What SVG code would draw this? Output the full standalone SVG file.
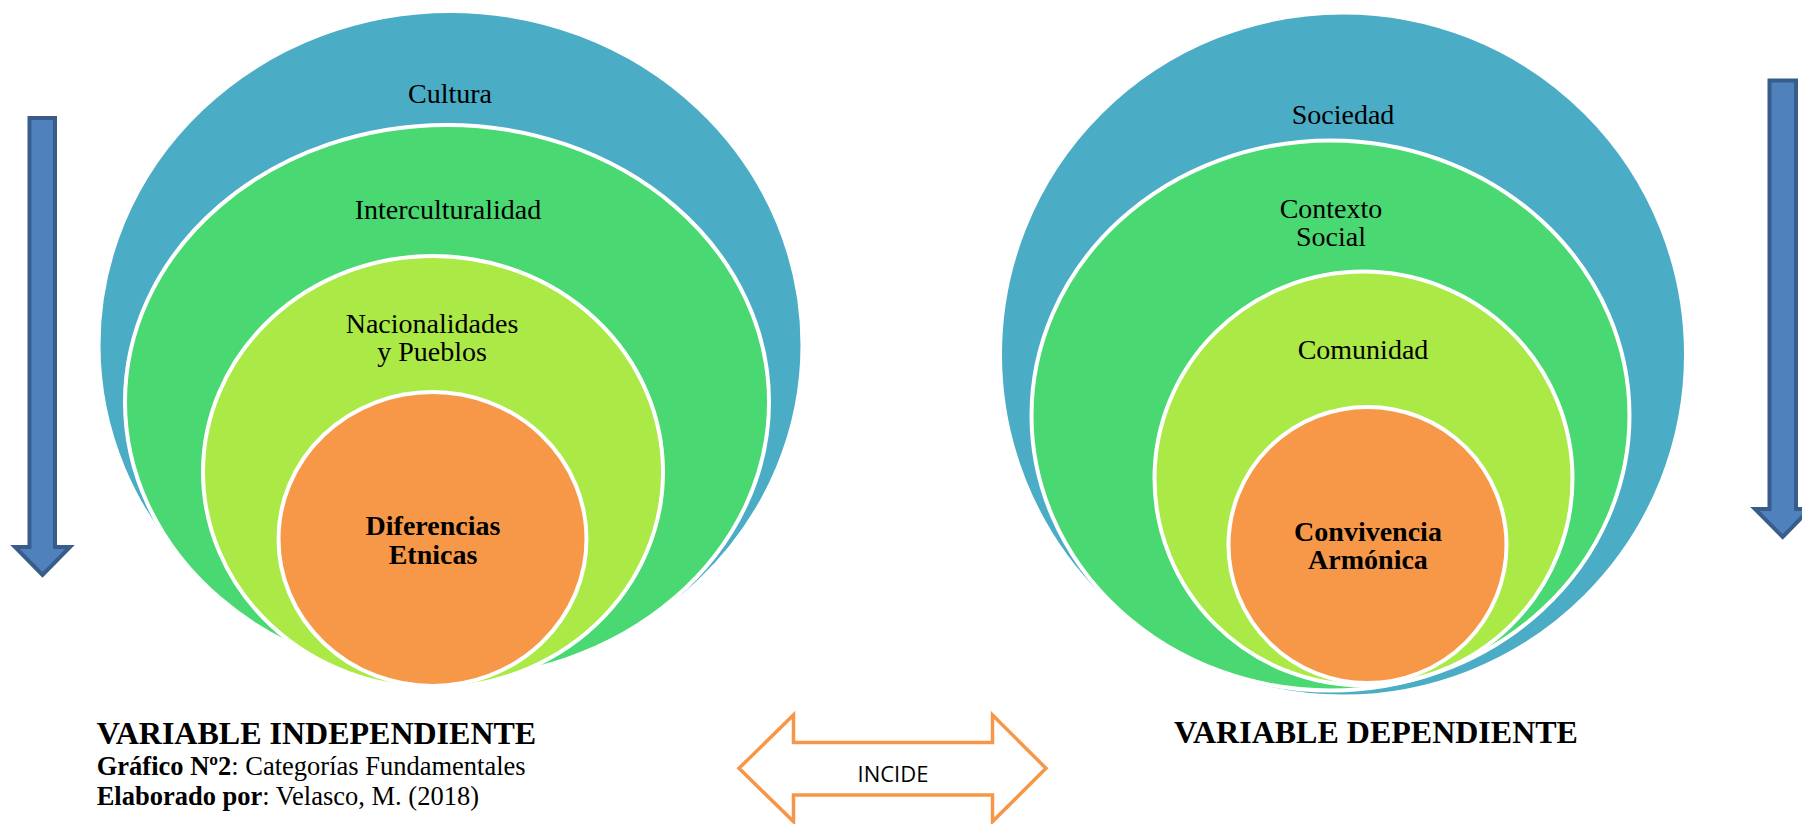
<svg xmlns="http://www.w3.org/2000/svg" width="1802" height="824" viewBox="0 0 1802 824">
<style>
.ring{stroke:#ffffff;stroke-width:4}
.blue{fill:#4bacc6}
.green{fill:#4ad872}
.lime{fill:#abe947}
.orange{fill:#f79848}
.t{font-family:"Liberation Serif","Times New Roman",serif;font-size:28px;fill:#000;text-anchor:middle}
.b{font-weight:bold}
.cap{font-family:"Liberation Serif","Times New Roman",serif;fill:#000}
.arrowV{fill:#4f81bd;stroke:#385d8a;stroke-width:4;stroke-linejoin:miter}
</style>
<g id="left-blue"><ellipse class="ring blue" cx="450.5" cy="345" rx="352" ry="334"/><text class="t" x="450" y="102.5">Cultura</text></g>
<g id="left-green"><ellipse class="ring green" cx="447" cy="402" rx="322" ry="277"/><text class="t" x="448" y="218.5">Interculturalidad</text></g>
<g id="left-lime"><ellipse class="ring lime" cx="433" cy="472" rx="230" ry="216"/><text class="t" x="432" y="332.5">Nacionalidades</text><text class="t" x="432" y="361">y Pueblos</text></g>
<g id="left-orange"><ellipse class="ring orange" cx="432.5" cy="539" rx="154" ry="147"/><text class="t b" x="433" y="534.5">Diferencias</text><text class="t b" x="433" y="563.5">Etnicas</text></g>

<g id="right-blue"><ellipse class="ring blue" cx="1343" cy="354.5" rx="343" ry="342"/><text class="t" x="1343" y="124">Sociedad</text></g>
<g id="right-green"><ellipse class="ring green" cx="1330.5" cy="415.5" rx="299" ry="275"/><text class="t" x="1331" y="218">Contexto</text><text class="t" x="1331" y="245.5">Social</text></g>
<g id="right-lime"><ellipse class="ring lime" cx="1363.5" cy="478.5" rx="209" ry="207"/><text class="t" x="1363" y="359">Comunidad</text></g>
<g id="right-orange"><ellipse class="ring orange" cx="1367.5" cy="545" rx="139" ry="138"/><text class="t b" x="1368" y="541">Convivencia</text><text class="t b" x="1368" y="569">Armónica</text></g>

<g id="connectors">
<path id="arrow-left" class="arrowV" d="M29.5,118 L55,118 L55,547 L70,547 L42.5,575 L15,547 L29.5,547 Z"/>
<path id="arrow-right" class="arrowV" d="M1769.5,80.5 L1796,80.5 L1796,509 L1810,509 L1782.7,537 L1755,509 L1769.5,509 Z"/>
<g id="incide">
<path d="M739,768.3 L793.5,715 L793.5,742.5 L992.5,742.5 L992.5,715 L1046,768.3 L992.5,821.6 L992.5,795 L793.5,795 L793.5,821.6 Z" fill="#ffffff" stroke="#f79646" stroke-width="3.5"/>
<text x="893" y="781.5" font-family="'Open Sans','Liberation Sans',sans-serif" font-size="22" text-anchor="middle" fill="#000">INCIDE</text>
</g>
</g>

<g id="captions">
<text class="cap b" x="96.7" y="744.3" font-size="32">VARIABLE INDEPENDIENTE</text>
<text class="cap" x="96.7" y="775" font-size="26.5"><tspan font-weight="bold">Gráfico Nº2</tspan>: Categorías Fundamentales</text>
<text class="cap" x="96.7" y="805" font-size="26.5"><tspan font-weight="bold">Elaborado por</tspan>: Velasco, M. (2018)</text>
<text class="cap b" x="1174" y="743.3" font-size="32">VARIABLE DEPENDIENTE</text>
</g>
</svg>
